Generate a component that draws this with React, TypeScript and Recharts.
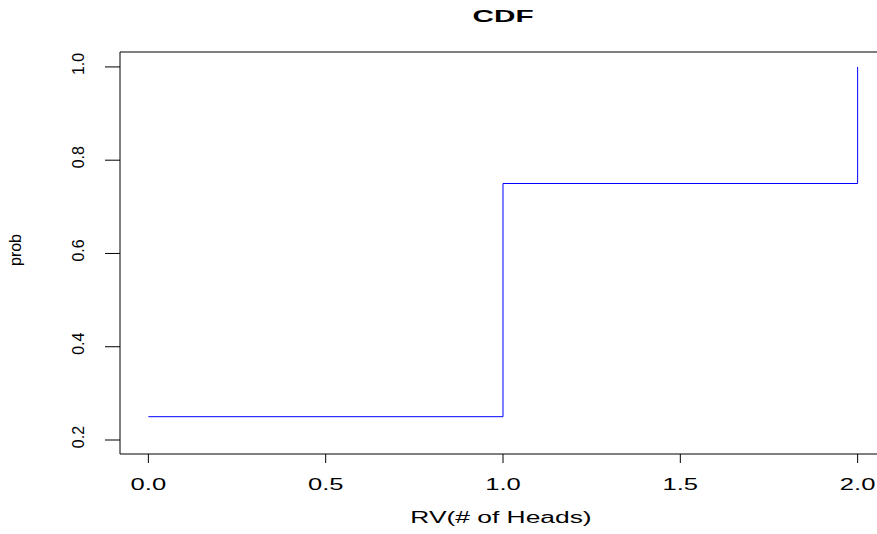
import React from 'react';
import { LineChart, Line, XAxis, YAxis, ReferenceLine } from 'recharts';

const rvValues = [0, 1, 2];
const probValues = [0.25, 0.75, 1.0];
const xTicks = [0, 0.5, 1, 1.5, 2];
const yTicks = [0.2, 0.4, 0.6, 0.8, 1.0];

const data = rvValues.map((rv, i) => ({ rv, prob: probValues[i] }));

const FONT = '"Liberation Sans", Arial, Helvetica, sans-serif';
const Y_MIN = 0.17;
const Y_MAX = 1.032;

const XTick: React.FC<any> = ({ x, payload }) => (
    <g transform={`translate(${x},490)`}>
        <text transform="scale(1.6,1)" textAnchor="middle" fontFamily={FONT} fontSize={16} fill="#000">
            {Number(payload.value).toFixed(1)}
        </text>
    </g>
);

const YTick: React.FC<any> = ({ y, payload }) => (
    <g transform={`translate(84,${y - 3}) rotate(-90)`}>
        <text textAnchor="middle" fontFamily={FONT} fontSize={16} fill="#000">
            {Number(payload.value).toFixed(1)}
        </text>
    </g>
);

const App: React.FC = () => {
    return (
        <div style={{ position: 'absolute', left: 0, top: 0, width: 877, height: 534, overflow: 'hidden', background: '#fff' }}>
            <LineChart
                width={890}
                height={534}
                data={data}
                margin={{ top: 52, right: 4, bottom: 0, left: 0 }}
            >
                <XAxis
                    dataKey="rv"
                    type="number"
                    domain={[-0.08, 2.08]}
                    ticks={xTicks}
                    allowDataOverflow
                    height={80}
                    tickSize={9}
                    tick={<XTick />}
                    stroke="#000"
                    interval={0}
                />
                <YAxis
                    type="number"
                    domain={[Y_MIN, Y_MAX]}
                    ticks={yTicks}
                    allowDataOverflow
                    width={120}
                    tickSize={15}
                    tick={<YTick />}
                    stroke="#000"
                    interval={0}
                />
                <ReferenceLine y={Y_MAX} stroke="#000" />
                <Line
                    type="stepAfter"
                    dataKey="prob"
                    stroke="#0000ff"
                    strokeWidth={1}
                    dot={false}
                    isAnimationActive={false}
                />
            </LineChart>
            <svg width={877} height={534} style={{ position: 'absolute', left: 0, top: 0, pointerEvents: 'none' }}>
                <g transform="translate(503,22)">
                    <text transform="scale(1.75,1)" textAnchor="middle" fontFamily={FONT} fontSize={17} fontWeight="bold" fill="#000">
                        CDF
                    </text>
                </g>
                <g transform="translate(501,523)">
                    <text transform="scale(1.65,1)" textAnchor="middle" fontFamily={FONT} fontSize={16} fill="#000">
                        RV(# of Heads)
                    </text>
                </g>
                <g transform="translate(21,250) rotate(-90)">
                    <text textAnchor="middle" fontFamily={FONT} fontSize={16} fill="#000">
                        prob
                    </text>
                </g>
            </svg>
        </div>
    );
};

export default App;
